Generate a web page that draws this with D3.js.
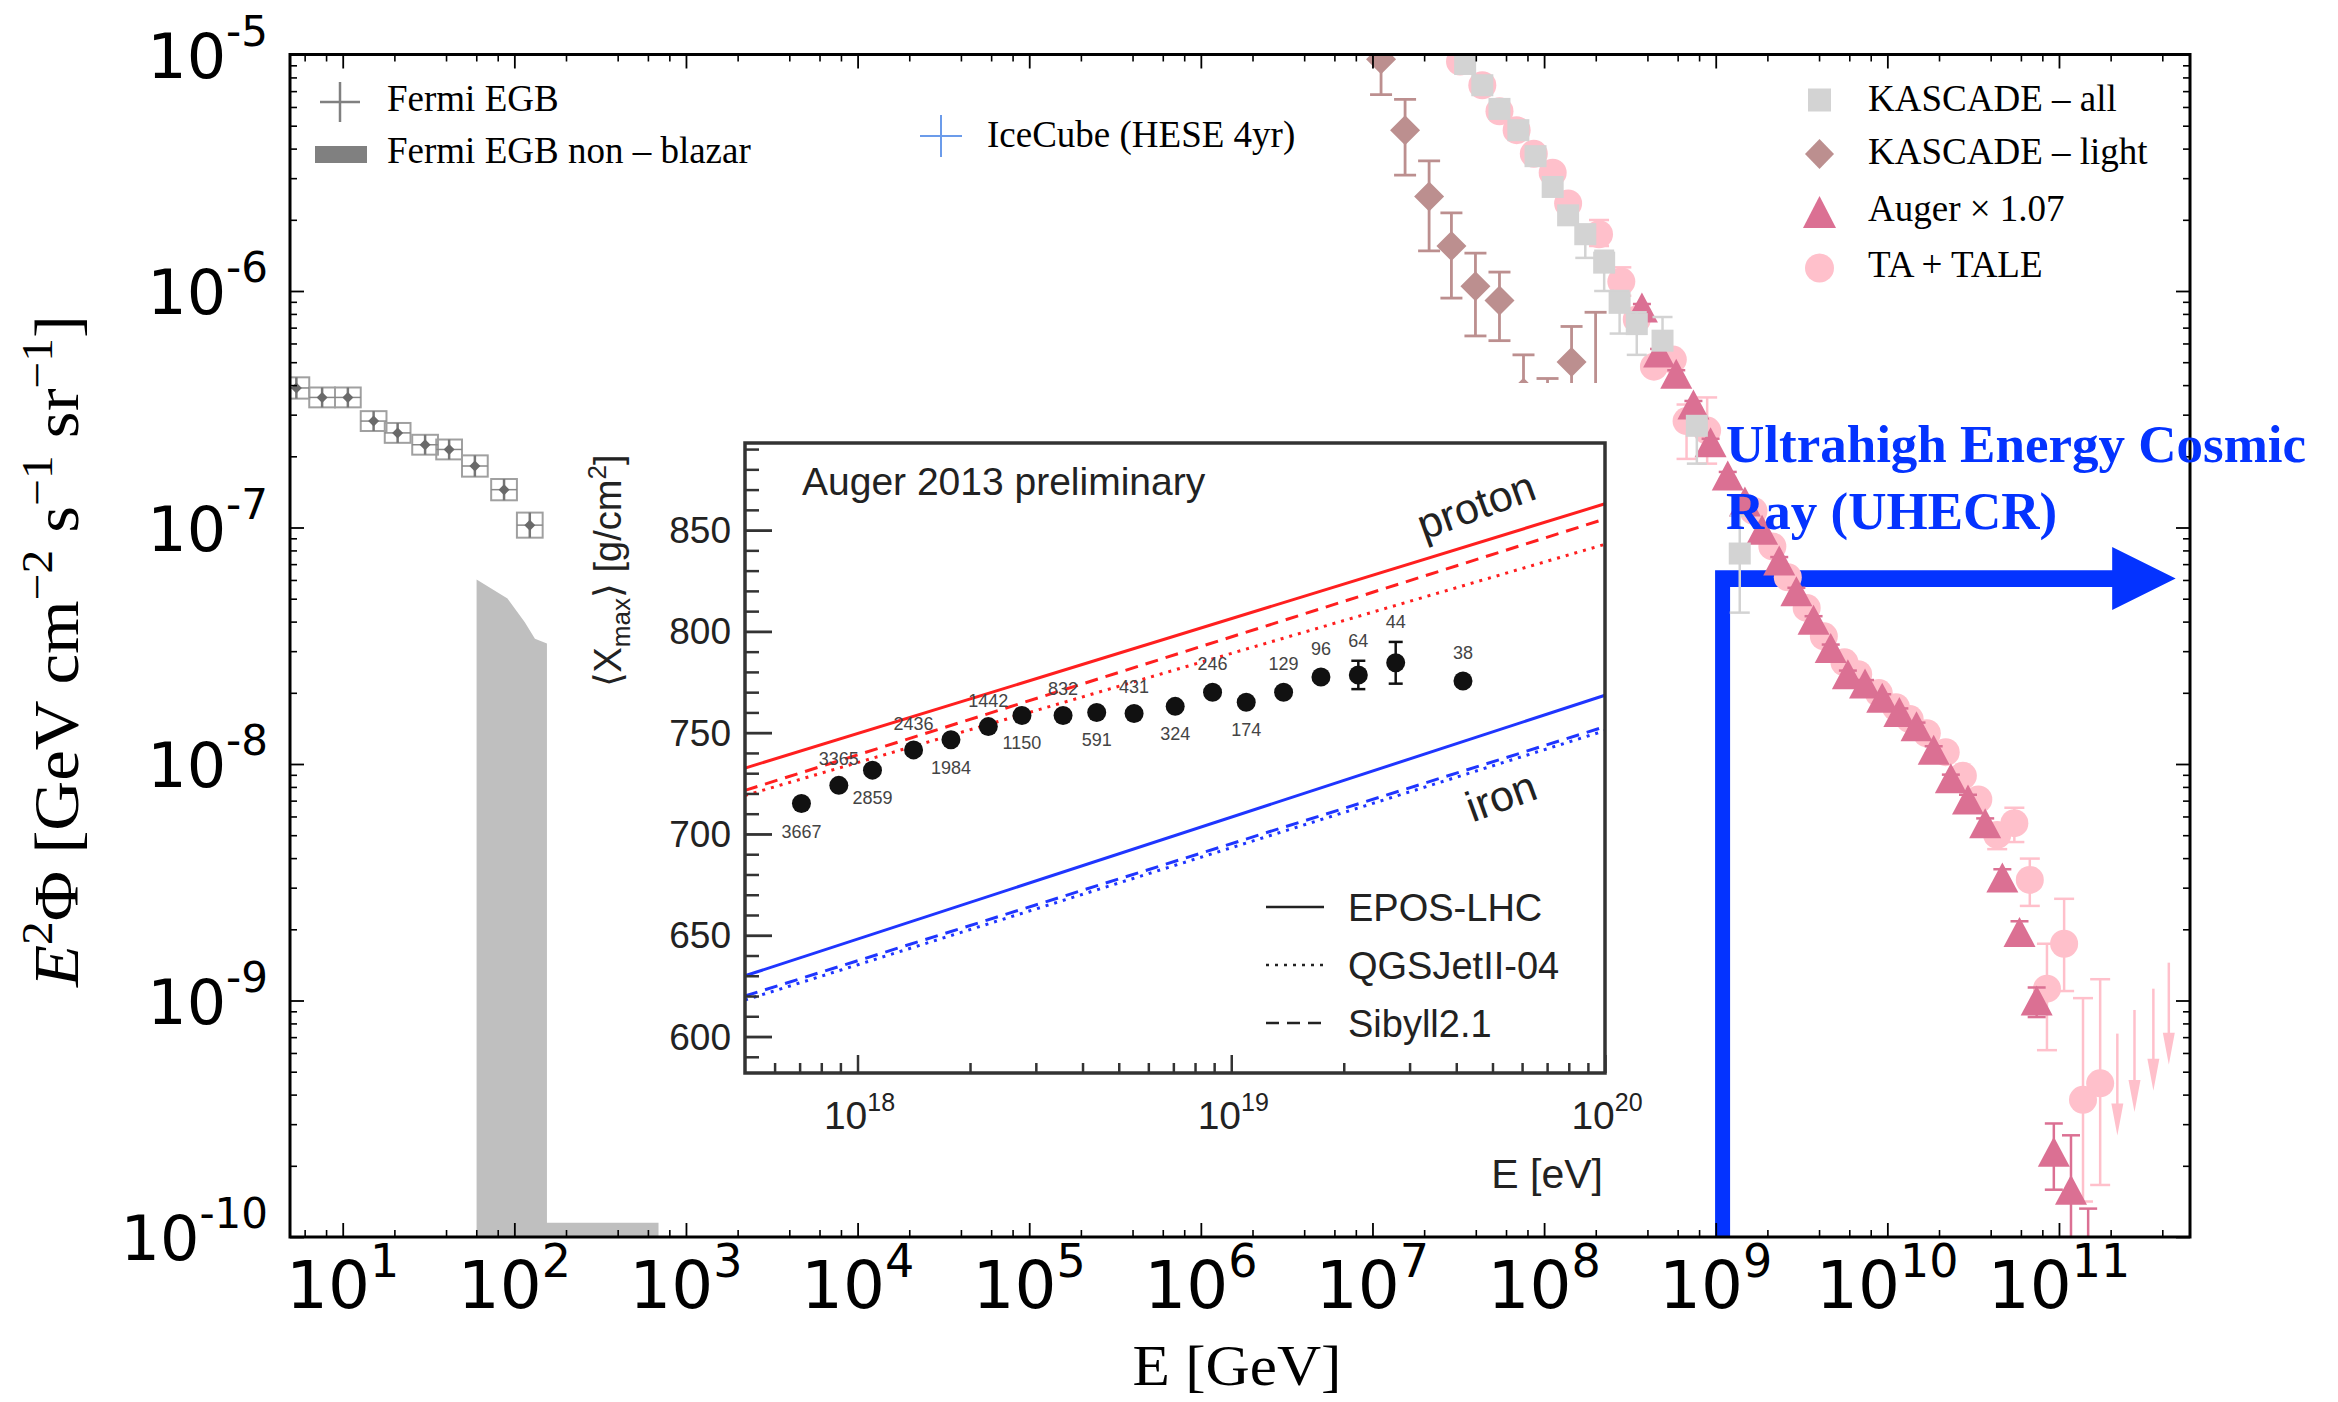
<!DOCTYPE html>
<html>
<head>
<meta charset="utf-8">
<title>UHECR spectrum</title>
<script src="https://cdn.jsdelivr.net/npm/d3@7"></script>
<style>
  body { margin: 0; background: #fff; }
  svg { display: block; }
  .serif { font-family: "Liberation Serif", "DejaVu Serif", serif; }
  .sans { font-family: "DejaVu Sans", sans-serif; }
  .helv { font-family: "Liberation Sans", Arial, sans-serif; }
</style>
</head>
<body>
<svg id="chart" width="2338" height="1402"></svg>
<script>
// ---------- data: log10(E / GeV) and log10(E^2 Phi) ----------
var fermiLogE = [0.73, 0.88, 1.03, 1.18, 1.32, 1.48, 1.62, 1.77, 1.94, 2.09];
var fermiLogF = [-6.41, -6.45, -6.45, -6.55, -6.60, -6.65, -6.67, -6.74, -6.84, -6.99];
var fermiErr  = [0.045, 0.042, 0.042, 0.042, 0.042, 0.042, 0.042, 0.045, 0.045, 0.053];
var fermiBin  = 0.075;

// Fermi EGB non-blazar band (upper edge as visible)
var nbLogE = [1.78, 1.96, 2.06, 2.12, 2.19, 2.19, 2.84];
var nbLogF = [-7.22, -7.30, -7.40, -7.47, -7.49, -9.94, -9.94];

var kasAllLogE = [7.54, 7.64, 7.74, 7.85, 7.95, 8.05, 8.14, 8.24, 8.35, 8.44, 8.54, 8.69, 8.89, 9.14];
var kasAllLogF = [-5.04, -5.13, -5.23, -5.32, -5.43, -5.56, -5.68, -5.76, -5.88, -6.05, -6.14, -6.21, -6.57, -7.11];
var kasAllUp   = [0.01, 0.01, 0.01, 0.01, 0.015, 0.02, 0.02, 0.04, 0.05, 0.05, 0.05, 0.10, 0.03, 0.16];
var kasAllDn   = [0.01, 0.01, 0.01, 0.02, 0.02, 0.02, 0.03, 0.10, 0.12, 0.13, 0.13, 0.02, 0.16, 0.25];

var kasLightLogE = [7.05, 7.19, 7.33, 7.46, 7.60, 7.74, 7.88, 8.02, 8.16, 8.30];
var kasLightLogF = [-5.02, -5.32, -5.60, -5.81, -5.98, -6.04, -6.43, -6.55, -6.30, -6.55];
var kasLightUp   = [0.12, 0.13, 0.15, 0.14, 0.14, 0.12, 0.16, 0.18, 0.15, 0.46];
var kasLightDn   = [0.15, 0.19, 0.23, 0.22, 0.21, 0.17, 0.20, 0.20, 0.25, 0.45];

var augerLogE = [8.57, 8.67, 8.77, 8.87, 8.97, 9.07, 9.17, 9.27, 9.37, 9.47, 9.57, 9.67, 9.77, 9.87,
                 9.97, 10.07, 10.17, 10.27, 10.37, 10.47, 10.57, 10.67, 10.77, 10.87, 10.97, 11.07, 11.17];
var augerLogF = [-6.07, -6.26, -6.35, -6.48, -6.64, -6.78, -6.89, -7.01, -7.14, -7.27, -7.39, -7.51, -7.62, -7.66,
                 -7.72, -7.78, -7.84, -7.94, -8.06, -8.15, -8.25, -8.48, -8.71, -9.00, -9.64, -9.80, -10.25];
var augerUp   = [0.015, 0.015, 0.015, 0.015, 0.015, 0.015, 0.015, 0.015, 0.015, 0.015, 0.015, 0.015, 0.015, 0.015,
                 0.015, 0.015, 0.015, 0.015, 0.015, 0.02, 0.02, 0.035, 0.045, 0.055, 0.12, 0.23, 0.37];
var augerDn   = [0.015, 0.015, 0.015, 0.015, 0.015, 0.015, 0.015, 0.015, 0.015, 0.015, 0.015, 0.015, 0.015, 0.015,
                 0.015, 0.015, 0.015, 0.015, 0.015, 0.02, 0.02, 0.03, 0.04, 0.07, 0.16, 0.50, 0.40];

var taLogE = [7.51, 7.64, 7.74, 7.84, 7.94, 8.05, 8.14, 8.32, 8.45, 8.54, 8.64, 8.75, 8.83, 8.95, 9.22, 9.33, 9.42,
              9.53, 9.63, 9.75, 9.83, 9.95, 10.05, 10.13, 10.23, 10.34, 10.44, 10.53, 10.64, 10.74, 10.83, 10.93,
              11.03, 11.14, 11.24];
var taLogF = [-5.03, -5.13, -5.24, -5.32, -5.42, -5.50, -5.63, -5.76, -5.96, -6.12, -6.32, -6.29, -6.55, -6.59,
              -6.93, -7.08, -7.21, -7.34, -7.46, -7.57, -7.62, -7.70, -7.76, -7.81, -7.87, -7.95, -8.05, -8.15,
              -8.30, -8.25, -8.49, -8.95, -8.76, -9.42, -9.35];
var taUp   = [0.02, 0.02, 0.02, 0.02, 0.02, 0.02, 0.02, 0.06, 0.06, 0.02, 0.02, 0.02, 0.07, 0.14, 0.02, 0.02, 0.02,
              0.02, 0.02, 0.02, 0.02, 0.02, 0.02, 0.02, 0.02, 0.02, 0.02, 0.02, 0.03, 0.065, 0.09, 0.19, 0.19, 0.43, 0.44];
var taDn   = [0.02, 0.02, 0.02, 0.02, 0.02, 0.02, 0.02, 0.05, 0.06, 0.02, 0.02, 0.02, 0.16, 0.14, 0.02, 0.02, 0.02,
              0.02, 0.02, 0.02, 0.02, 0.02, 0.02, 0.02, 0.02, 0.02, 0.02, 0.02, 0.06, 0.08, 0.11, 0.26, 0.20, 0.43, 0.43];
// TA upper limits
var taUlLogE = [11.34, 11.44, 11.55, 11.64];
var taUlLogF = [-9.14, -9.04, -8.95, -8.84];

// UHECR marker: bar energy, arrow-head base, arrow tip; arrow flux level
var uhecrLogE = [9.04, 11.31, 11.68];
var uhecrLogF = -7.216;

// ---------- inset: Auger 2013 <Xmax> ----------
var xmaxLogE = [17.85, 17.95, 18.04, 18.15, 18.25, 18.35, 18.44, 18.55, 18.64, 18.74, 18.85, 18.95, 19.04, 19.14,
                19.24, 19.34, 19.44, 19.62];
var xmaxVal  = [715, 724, 731.5, 741.5, 746.5, 753, 758.5, 758.5, 760, 759.5, 763, 770, 765, 770, 777.5, 778.5,
                784.5, 775.5];
var xmaxErr  = [2, 2, 2, 2, 2, 2, 2, 3, 3, 3, 3, 4, 4, 4, 4, 7, 10.3, 4];
var xmaxCounts = [3667, 3365, 2859, 2436, 1984, 1442, 1150, 832, 591, 431, 324, 246, 174, 129, 96, 64, 44, 38];
var countBelow = [1, 0, 1, 0, 1, 0, 1, 0, 1, 0, 1, 0, 1, 0, 0, 0, 0, 0];

var modelE = [5e17, 1e20];
var protonEpos = [732.5, 863], protonQgs = [719, 843], protonSib = [721.5, 855.5];
var ironEpos = [630, 768.5], ironQgs = [618, 751], ironSib = [620, 753];

// ---------- setup ----------
var svg = d3.select("#chart");
var P = function(v) { return Math.pow(10, v); };

var x = d3.scaleLog().domain([4.93, 5.8e11]).range([290, 2190]);
var y = d3.scaleLog().domain([1e-10, 1e-5]).range([1237, 54.5]);

svg.append("defs").append("clipPath").attr("id", "plotClip").append("rect")
  .attr("x", 290).attr("y", 54.5).attr("width", 1900).attr("height", 1182.5);

var plot = svg.append("g").attr("clip-path", "url(#plotClip)");

function rows(le, lf, up, dn) {
  return le.map(function(e, i) {
    return { e: P(e), f: P(lf[i]), hi: P(lf[i] + up[i]), lo: P(lf[i] - dn[i]) };
  });
}

function errorBars(g, data, color, cap, width) {
  var eb = g.append("g").attr("stroke", color).attr("stroke-width", width);
  eb.selectAll("line.v").data(data).join("line").attr("class", "v")
    .attr("x1", function(d) { return x(d.e); }).attr("x2", function(d) { return x(d.e); })
    .attr("y1", function(d) { return y(d.hi); }).attr("y2", function(d) { return y(d.lo); });
  eb.selectAll("line.ct").data(data).join("line").attr("class", "ct")
    .attr("x1", function(d) { return x(d.e) - cap / 2; }).attr("x2", function(d) { return x(d.e) + cap / 2; })
    .attr("y1", function(d) { return y(d.hi); }).attr("y2", function(d) { return y(d.hi); });
  eb.selectAll("line.cb").data(data).join("line").attr("class", "cb")
    .attr("x1", function(d) { return x(d.e) - cap / 2; }).attr("x2", function(d) { return x(d.e) + cap / 2; })
    .attr("y1", function(d) { return y(d.lo); }).attr("y2", function(d) { return y(d.lo); });
}

var TRI = "M0,-15L16,15L-16,15Z";
var DIA = "M0,-15L15,0L0,15L-15,0Z";

// Fermi non-blazar band
var nbData = nbLogE.map(function(e, i) { return [P(e), P(nbLogF[i])]; });
plot.append("path").datum(nbData)
  .attr("d", d3.area().x(function(d) { return x(d[0]); }).y0(y.range()[0]).y1(function(d) { return y(d[1]); }))
  .attr("fill", "#bfbfbf");

// Fermi EGB points with boxes
var fermi = fermiLogE.map(function(e, i) {
  return { x0: P(e - fermiBin), x1: P(e + fermiBin), e: P(e), f: P(fermiLogF[i]),
           hi: P(fermiLogF[i] + fermiErr[i]), lo: P(fermiLogF[i] - fermiErr[i]) };
});
var fg = plot.append("g");
fg.selectAll("rect").data(fermi).join("rect")
  .attr("x", function(d) { return x(d.x0); }).attr("width", function(d) { return x(d.x1) - x(d.x0); })
  .attr("y", function(d) { return y(d.hi); }).attr("height", function(d) { return y(d.lo) - y(d.hi); })
  .attr("fill", "none").attr("stroke", "#a0a0a0").attr("stroke-width", 2);
fg.selectAll("line.h").data(fermi).join("line").attr("class", "h")
  .attr("x1", function(d) { return x(d.x0); }).attr("x2", function(d) { return x(d.x1); })
  .attr("y1", function(d) { return y(d.f); }).attr("y2", function(d) { return y(d.f); })
  .attr("stroke", "#888").attr("stroke-width", 1.5);
fg.selectAll("line.v").data(fermi).join("line").attr("class", "v")
  .attr("x1", function(d) { return x(d.e); }).attr("x2", function(d) { return x(d.e); })
  .attr("y1", function(d) { return y(d.hi); }).attr("y2", function(d) { return y(d.lo); })
  .attr("stroke", "#777").attr("stroke-width", 2.5);
fg.selectAll("path").data(fermi).join("path")
  .attr("d", "M0,-5.5L5.5,0L0,5.5L-5.5,0Z")
  .attr("transform", function(d) { return "translate(" + x(d.e) + "," + y(d.f) + ")"; })
  .attr("fill", "#6a6a6a");

// UHECR arrow (under data)
var bx = x(P(uhecrLogE[0])), hx = x(P(uhecrLogE[1])), tx = x(P(uhecrLogE[2])), ay = y(P(uhecrLogF));
plot.append("path")
  .attr("d", "M" + (bx - 7.5) + "," + y.range()[0] + "L" + (bx - 7.5) + "," + (ay - 8.3) +
             "L" + hx + "," + (ay - 8.3) + "L" + hx + "," + (ay - 31.5) + "L" + tx + "," + ay +
             "L" + hx + "," + (ay + 31.5) + "L" + hx + "," + (ay + 8.3) + "L" + (bx + 7.5) + "," + (ay + 8.3) +
             "L" + (bx + 7.5) + "," + y.range()[0] + "Z")
  .attr("fill", "#0433ff");

// TA + TALE
var ta = rows(taLogE, taLogF, taUp, taDn);
errorBars(plot, ta, "#ffc0cb", 20, 2.5);
plot.append("g").selectAll("circle").data(ta).join("circle")
  .attr("cx", function(d) { return x(d.e); }).attr("cy", function(d) { return y(d.f); })
  .attr("r", 14).attr("fill", "#ffc0cb");
var ul = plot.append("g").attr("fill", "#ffc0cb").attr("stroke", "#ffc0cb");
taUlLogE.forEach(function(e, i) {
  var ux = x(P(e)), uy = y(P(taUlLogF[i]));
  ul.append("line").attr("x1", ux).attr("x2", ux).attr("y1", uy).attr("y2", uy + 74).attr("stroke-width", 2.5);
  ul.append("path").attr("stroke", "none")
    .attr("d", "M" + (ux - 6) + "," + (uy + 70) + "L" + (ux + 6) + "," + (uy + 70) + "L" + ux + "," + (uy + 102) + "Z");
});

// Auger
var auger = rows(augerLogE, augerLogF, augerUp, augerDn);
errorBars(plot, auger, "#db7093", 18, 2.5);
plot.append("g").selectAll("path").data(auger).join("path")
  .attr("d", TRI).attr("fill", "#db7093")
  .attr("transform", function(d) { return "translate(" + x(d.e) + "," + y(d.f) + ")"; });

// KASCADE all
var kasAll = rows(kasAllLogE, kasAllLogF, kasAllUp, kasAllDn);
errorBars(plot, kasAll, "#d3d3d3", 20, 2.5);
plot.append("g").selectAll("rect").data(kasAll).join("rect")
  .attr("x", function(d) { return x(d.e) - 11; }).attr("y", function(d) { return y(d.f) - 11; })
  .attr("width", 22).attr("height", 22).attr("fill", "#d3d3d3");

// KASCADE light
var kasLight = rows(kasLightLogE, kasLightLogF, kasLightUp, kasLightDn);
errorBars(plot, kasLight, "#bc8f8f", 22, 2.8);
plot.append("g").selectAll("path").data(kasLight).join("path")
  .attr("d", DIA).attr("fill", "#bc8f8f")
  .attr("transform", function(d) { return "translate(" + x(d.e) + "," + y(d.f) + ")"; });

// white backdrop of the inset figure
svg.append("rect").attr("x", 547).attr("y", 383).attr("width", 1065).attr("height", 838).attr("fill", "#fff");

// ---------- main axes ----------
function logTicks(scale, subs) {
  var d = scale.domain(), lo = Math.min(d[0], d[1]), hi = Math.max(d[0], d[1]);
  var major = [], minor = [];
  for (var p = Math.floor(Math.log10(lo)); p <= Math.ceil(Math.log10(hi)); p++) {
    var b = Math.pow(10, p);
    if (b >= lo * 0.999 && b <= hi * 1.001) major.push(b);
    subs.forEach(function(s) { var v = s * b; if (v > lo && v < hi) minor.push(v); });
  }
  return { major: major, minor: minor };
}

function tickAxis(axisFn, scale, values, size, tr, color, width) {
  svg.append("g").attr("transform", tr)
    .call(axisFn(scale).tickValues(values).tickSize(size).tickFormat(""))
    .call(function(g) {
      g.select(".domain").remove();
      g.selectAll("line").attr("stroke", color).attr("stroke-width", width);
    });
}

var xt = logTicks(x, [2, 4, 6, 8]);
var yt = logTicks(y, [2, 3, 4, 5, 6, 7, 8, 9]);

tickAxis(d3.axisBottom, x, xt.major, -14, "translate(0,1237)", "#000", 1.8);
tickAxis(d3.axisBottom, x, xt.minor, -7, "translate(0,1237)", "#000", 1.6);
tickAxis(d3.axisTop, x, xt.major, -14, "translate(0,54.5)", "#000", 1.8);
tickAxis(d3.axisTop, x, xt.minor, -7, "translate(0,54.5)", "#000", 1.6);
tickAxis(d3.axisLeft, y, yt.major, -14, "translate(290,0)", "#000", 1.8);
tickAxis(d3.axisLeft, y, yt.minor, -7, "translate(290,0)", "#000", 1.6);
tickAxis(d3.axisRight, y, yt.major, -14, "translate(2190,0)", "#000", 1.8);
tickAxis(d3.axisRight, y, yt.minor, -7, "translate(2190,0)", "#000", 1.6);

svg.append("rect").attr("x", 290).attr("y", 54.5).attr("width", 1900).attr("height", 1182.5)
  .attr("fill", "none").attr("stroke", "#000").attr("stroke-width", 3);

svg.append("g").attr("class", "sans").attr("font-size", 66).attr("text-anchor", "middle")
  .selectAll("text").data(xt.major).join("text")
  .attr("x", function(d) { return x(d); }).attr("y", 1308)
  .each(function(d) {
    var t = d3.select(this);
    t.append("tspan").text("10");
    t.append("tspan").attr("font-size", 46).attr("dy", -31).text(Math.round(Math.log10(d)));
  });

svg.append("g").attr("class", "sans").attr("font-size", 62).attr("text-anchor", "end")
  .selectAll("text").data(yt.major).join("text")
  .attr("x", 268).attr("y", function(d) { return y(d) + 23; })
  .each(function(d) {
    var t = d3.select(this);
    t.append("tspan").text("10");
    t.append("tspan").attr("font-size", 42).attr("dy", -32).text("-" + Math.round(-Math.log10(d)));
  });

// axis titles
var yTitle = svg.append("text").attr("class", "serif")
  .attr("transform", "translate(78,651) rotate(-90)")
  .attr("text-anchor", "middle").attr("font-size", 64)
  .attr("textLength", 672).attr("lengthAdjust", "spacingAndGlyphs");
yTitle.append("tspan").attr("font-style", "italic").text("E");
yTitle.append("tspan").attr("font-size", 44).attr("dy", -26).text("2");
yTitle.append("tspan").attr("dy", 26).text("Φ [GeV cm");
yTitle.append("tspan").attr("font-size", 44).attr("dy", -26).text("−2");
yTitle.append("tspan").attr("dy", 26).text(" s");
yTitle.append("tspan").attr("font-size", 44).attr("dy", -26).text("−1");
yTitle.append("tspan").attr("dy", 26).text(" sr");
yTitle.append("tspan").attr("font-size", 44).attr("dy", -26).text("−1");
yTitle.append("tspan").attr("dy", 26).text("]");

svg.append("text").attr("class", "serif").attr("x", 1237).attr("y", 1385)
  .attr("text-anchor", "middle").attr("font-size", 58)
  .attr("textLength", 209).attr("lengthAdjust", "spacingAndGlyphs")
  .text("E [GeV]");

// ---------- inset ----------
var ix = d3.scaleLog().domain([5e17, 1e20]).range([745, 1605]);
var iy = d3.scaleLinear().domain([582, 893]).range([1073, 443]);
var inset = svg.append("g");

var modelLine = d3.line().x(function(d) { return ix(d[0]); }).y(function(d) { return iy(d[1]); });
function drawModel(vals, color, dash) {
  inset.append("path").datum(modelE.map(function(e, i) { return [e, vals[i]]; }))
    .attr("d", modelLine).attr("fill", "none").attr("stroke", color).attr("stroke-width", 3)
    .attr("stroke-dasharray", dash);
}
drawModel(protonEpos, "#ff1f1f", null);
drawModel(protonSib, "#ff1f1f", "13,8");
drawModel(protonQgs, "#ff1f1f", "3,6");
drawModel(ironEpos, "#1f35ff", null);
drawModel(ironSib, "#1f35ff", "13,8");
drawModel(ironQgs, "#1f35ff", "3,6");

var xm = xmaxLogE.map(function(e, i) {
  return { e: P(e), v: xmaxVal[i], err: xmaxErr[i], n: xmaxCounts[i], below: countBelow[i] };
});
var eg = inset.append("g").attr("stroke", "#111").attr("stroke-width", 2.5);
eg.selectAll("line.v").data(xm).join("line").attr("class", "v")
  .attr("x1", function(d) { return ix(d.e); }).attr("x2", function(d) { return ix(d.e); })
  .attr("y1", function(d) { return iy(d.v + d.err); }).attr("y2", function(d) { return iy(d.v - d.err); });
eg.selectAll("line.c").data(xm.filter(function(d) { return d.err > 5; })).join("line").attr("class", "c")
  .attr("x1", function(d) { return ix(d.e) - 7; }).attr("x2", function(d) { return ix(d.e) + 7; })
  .attr("y1", function(d) { return iy(d.v + d.err); }).attr("y2", function(d) { return iy(d.v + d.err); });
eg.selectAll("line.d").data(xm.filter(function(d) { return d.err > 5; })).join("line").attr("class", "d")
  .attr("x1", function(d) { return ix(d.e) - 7; }).attr("x2", function(d) { return ix(d.e) + 7; })
  .attr("y1", function(d) { return iy(d.v - d.err); }).attr("y2", function(d) { return iy(d.v - d.err); });
inset.append("g").selectAll("circle").data(xm).join("circle")
  .attr("cx", function(d) { return ix(d.e); }).attr("cy", function(d) { return iy(d.v); })
  .attr("r", 9.5).attr("fill", "#111");
inset.append("g").attr("font-family", "'Liberation Sans Narrow', 'Liberation Sans', sans-serif")
  .attr("font-size", 18).attr("fill", "#444").attr("text-anchor", "middle")
  .selectAll("text").data(xm).join("text")
  .attr("x", function(d) { return ix(d.e); })
  .attr("y", function(d) { return iy(d.v) + (d.below ? 34 : -20 - Math.max(0, d.err - 3) * 2); })
  .text(function(d) { return d.n; });

// inset axes
var ixt = logTicks(ix, [2, 3, 4, 5, 6, 7, 8, 9]);
var iyMajor = d3.range(600, 851, 50);
var iyMinor = d3.range(590, 891, 10).filter(function(v) { return v % 50 !== 0; });
tickAxis(d3.axisBottom, ix, ixt.major, -18, "translate(0,1073)", "#333", 2.5);
tickAxis(d3.axisBottom, ix, ixt.minor, -10, "translate(0,1073)", "#333", 2.5);
tickAxis(d3.axisLeft, iy, iyMajor, -27, "translate(745,0)", "#333", 2.8);
tickAxis(d3.axisLeft, iy, iyMinor, -14, "translate(745,0)", "#333", 2.5);
svg.append("rect").attr("x", 745).attr("y", 443).attr("width", 860).attr("height", 630)
  .attr("fill", "none").attr("stroke", "#333").attr("stroke-width", 3.5);

svg.append("g").attr("class", "helv").attr("font-size", 37).attr("fill", "#222").attr("text-anchor", "end")
  .selectAll("text").data(iyMajor).join("text")
  .attr("x", 731).attr("y", function(d) { return iy(d) + 13; }).text(function(d) { return d; });

svg.append("g").attr("class", "helv").attr("font-size", 39).attr("fill", "#222").attr("text-anchor", "middle")
  .selectAll("text").data(ixt.major).join("text")
  .attr("x", function(d) { return ix(d) + 2; }).attr("y", 1129)
  .each(function(d) {
    var t = d3.select(this);
    t.append("tspan").text("10");
    t.append("tspan").attr("font-size", 25).attr("dy", -18).text(Math.round(Math.log10(d)));
  });

svg.append("text").attr("class", "helv").attr("x", 1603).attr("y", 1188).attr("text-anchor", "end")
  .attr("font-size", 41).attr("fill", "#222").text("E [eV]");

var iyTitle = svg.append("text").attr("class", "helv")
  .attr("transform", "translate(621,571) rotate(-90)")
  .attr("text-anchor", "middle").attr("font-size", 38).attr("fill", "#222");
iyTitle.append("tspan").text("⟨X");
iyTitle.append("tspan").attr("font-size", 26).attr("dy", 9).text("max");
iyTitle.append("tspan").attr("dy", -9).text("⟩ [g/cm");
iyTitle.append("tspan").attr("font-size", 26).attr("dy", -15).text("2");
iyTitle.append("tspan").attr("dy", 15).text("]");

svg.append("text").attr("class", "helv").attr("x", 802).attr("y", 495)
  .attr("font-size", 39).attr("fill", "#222").text("Auger 2013 preliminary");
svg.append("text").attr("class", "helv").attr("transform", "translate(1477,508) rotate(-20)")
  .attr("y", 12).attr("text-anchor", "middle").attr("font-size", 43).attr("fill", "#222").text("proton");
svg.append("text").attr("class", "helv").attr("transform", "translate(1502,799) rotate(-20)")
  .attr("y", 12).attr("text-anchor", "middle").attr("font-size", 43).attr("fill", "#222").text("iron");

var modelNames = ["EPOS-LHC", "QGSJetII-04", "Sibyll2.1"];
var modelDash = [null, "3,6", "13,8"];
var ileg = svg.append("g").attr("class", "helv");
modelNames.forEach(function(name, i) {
  var ly = 907 + i * 58;
  ileg.append("line").attr("x1", 1266).attr("x2", 1324).attr("y1", ly).attr("y2", ly)
    .attr("stroke", "#222").attr("stroke-width", 2.5).attr("stroke-dasharray", modelDash[i]);
  ileg.append("text").attr("x", 1348).attr("y", ly + 14).attr("font-size", 38).attr("fill", "#222").text(name);
});

// ---------- UHECR label ----------
var uh = svg.append("g").attr("class", "serif").attr("font-weight", "bold").attr("font-size", 53).attr("fill", "#0433ff");
uh.append("text").attr("x", 1726).attr("y", 462).text("Ultrahigh Energy Cosmic");
uh.append("text").attr("x", 1726).attr("y", 529).text("Ray (UHECR)");

// ---------- legends ----------
var leg = svg.append("g").attr("class", "serif").attr("font-size", 37);
leg.append("line").attr("x1", 320).attr("x2", 360).attr("y1", 102).attr("y2", 102).attr("stroke", "#808080").attr("stroke-width", 2.5);
leg.append("line").attr("x1", 340).attr("x2", 340).attr("y1", 82).attr("y2", 122).attr("stroke", "#808080").attr("stroke-width", 2.5);
leg.append("text").attr("x", 387).attr("y", 111).text("Fermi EGB");
leg.append("rect").attr("x", 315).attr("y", 146).attr("width", 52).attr("height", 17).attr("fill", "#808080");
leg.append("text").attr("x", 387).attr("y", 163).text("Fermi EGB non – blazar");

leg.append("line").attr("x1", 920).attr("x2", 962).attr("y1", 136).attr("y2", 136).attr("stroke", "#6b9bea").attr("stroke-width", 2);
leg.append("line").attr("x1", 941).attr("x2", 941).attr("y1", 115).attr("y2", 157).attr("stroke", "#6b9bea").attr("stroke-width", 2);
leg.append("text").attr("x", 987).attr("y", 147).text("IceCube (HESE 4yr)");

var rl = svg.append("g").attr("class", "serif").attr("font-size", 37);
rl.append("rect").attr("x", 1808).attr("y", 88.5).attr("width", 23).attr("height", 23).attr("fill", "#d3d3d3");
rl.append("path").attr("d", "M0,-15L14.5,0L0,15L-14.5,0Z").attr("transform", "translate(1819.5,154)").attr("fill", "#bc8f8f");
rl.append("path").attr("d", "M0,-16L16.5,16L-16.5,16Z").attr("transform", "translate(1819.5,212)").attr("fill", "#db7093");
rl.append("circle").attr("cx", 1819.5).attr("cy", 268).attr("r", 14.5).attr("fill", "#ffc0cb");
rl.append("text").attr("x", 1868).attr("y", 111).text("KASCADE – all");
rl.append("text").attr("x", 1868).attr("y", 164).text("KASCADE – light");
rl.append("text").attr("x", 1868).attr("y", 221).text("Auger × 1.07");
rl.append("text").attr("x", 1868).attr("y", 277).text("TA + TALE");
</script>
</body>
</html>
